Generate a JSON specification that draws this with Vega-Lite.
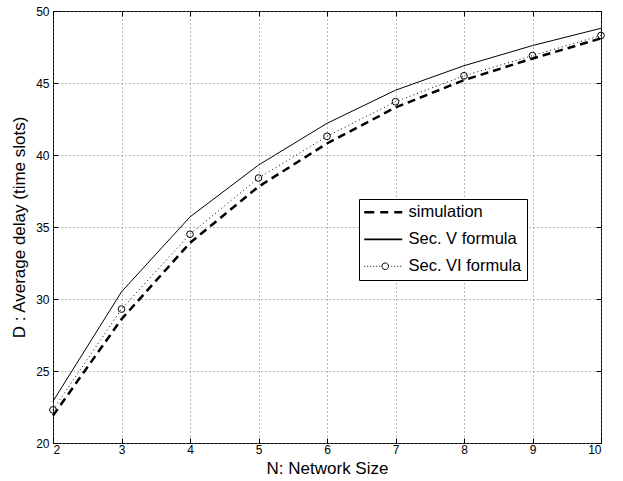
{
  "$schema": "https://vega.github.io/schema/vega-lite/v6.json",
  "width": 548,
  "height": 432,
  "autosize": "none",
  "padding": {"left": 53, "top": 11, "right": 22, "bottom": 38},
  "background": "white",
  "config": {
    "font": "Liberation Sans",
    "view": {"stroke": "black", "strokeWidth": 1},
    "axis": {
      "domain": false,
      "labelFontSize": 12,
      "labelColor": "black",
      "labelFont": "Liberation Sans",
      "titleFontSize": 17,
      "titleFontWeight": "normal",
      "titleColor": "black",
      "titleFont": "Liberation Sans",
      "tickColor": "black",
      "tickSize": -5,
      "gridColor": "#777777",
      "gridDash": [1, 3],
      "gridOpacity": 1
    },
    "legend": {
      "orient": "none",
      "legendX": 306,
      "legendY": 188,
      "strokeColor": "black",
      "fillColor": "white",
      "padding": 5,
      "labelFontSize": 16.5,
      "labelFont": "Liberation Sans",
      "labelColor": "black",
      "labelOffset": 28,
      "rowPadding": 10,
      "symbolSize": 100,
      "symbolStrokeColor": "black"
    }
  },
  "data": {
    "values": [
      {"series": "simulation", "N": 2, "D": 21.9},
      {"series": "simulation", "N": 3, "D": 28.6},
      {"series": "simulation", "N": 4, "D": 33.9},
      {"series": "simulation", "N": 5, "D": 37.8},
      {"series": "simulation", "N": 6, "D": 40.8},
      {"series": "simulation", "N": 7, "D": 43.3},
      {"series": "simulation", "N": 8, "D": 45.2},
      {"series": "simulation", "N": 9, "D": 46.7},
      {"series": "simulation", "N": 10, "D": 48.1},
      {"series": "Sec. V formula", "N": 2, "D": 22.9},
      {"series": "Sec. V formula", "N": 3, "D": 30.5},
      {"series": "Sec. V formula", "N": 4, "D": 35.7},
      {"series": "Sec. V formula", "N": 5, "D": 39.3},
      {"series": "Sec. V formula", "N": 6, "D": 42.2},
      {"series": "Sec. V formula", "N": 7, "D": 44.5},
      {"series": "Sec. V formula", "N": 8, "D": 46.2},
      {"series": "Sec. V formula", "N": 9, "D": 47.6},
      {"series": "Sec. V formula", "N": 10, "D": 48.8},
      {"series": "Sec. VI formula", "N": 2, "D": 22.3},
      {"series": "Sec. VI formula", "N": 3, "D": 29.3},
      {"series": "Sec. VI formula", "N": 4, "D": 34.5},
      {"series": "Sec. VI formula", "N": 5, "D": 38.4},
      {"series": "Sec. VI formula", "N": 6, "D": 41.3},
      {"series": "Sec. VI formula", "N": 7, "D": 43.7},
      {"series": "Sec. VI formula", "N": 8, "D": 45.5},
      {"series": "Sec. VI formula", "N": 9, "D": 46.9},
      {"series": "Sec. VI formula", "N": 10, "D": 48.3}
    ]
  },
  "layer": [
    {
      "transform": [{"filter": "datum.series === 'simulation'"}],
      "mark": {"type": "line", "color": "black", "strokeWidth": 2.5, "strokeDash": [8, 5]},
      "encoding": {
        "x": {
          "field": "N", "type": "quantitative",
          "scale": {"domain": [2, 10], "nice": false, "zero": false},
          "axis": {"orient": "bottom", "values": [2, 3, 4, 5, 6, 7, 8, 9, 10], "grid": true, "title": "N: Network Size", "labelPadding": 6, "titlePadding": 5}
        },
        "y": {
          "field": "D", "type": "quantitative",
          "scale": {"domain": [20, 50], "nice": false, "zero": false},
          "axis": {"orient": "left", "values": [20, 25, 30, 35, 40, 45, 50], "grid": true, "title": "D : Average delay (time slots)", "labelPadding": 9, "titlePadding": 7}
        }
      }
    },
    {
      "transform": [{"filter": "datum.series === 'Sec. V formula'"}],
      "mark": {"type": "line", "color": "black", "strokeWidth": 1},
      "encoding": {
        "x": {"field": "N", "type": "quantitative", "axis": null},
        "y": {"field": "D", "type": "quantitative", "axis": null}
      }
    },
    {
      "transform": [{"filter": "datum.series === 'Sec. VI formula'"}],
      "mark": {"type": "line", "color": "black", "strokeWidth": 1, "strokeDash": [1, 3]},
      "encoding": {
        "x": {"field": "N", "type": "quantitative", "axis": null},
        "y": {"field": "D", "type": "quantitative", "axis": null}
      }
    },
    {
      "transform": [{"filter": "datum.series === 'Sec. VI formula'"}],
      "mark": {"type": "point", "shape": "circle", "filled": false, "color": "black", "strokeWidth": 1, "size": 45, "opacity": 1},
      "encoding": {
        "x": {"field": "N", "type": "quantitative", "axis": null},
        "y": {"field": "D", "type": "quantitative", "axis": null}
      }
    },
    {
      "transform": [{"filter": "false"}],
      "mark": {"type": "point", "filled": false, "color": "black", "size": 100, "opacity": 1},
      "encoding": {
        "x": {
          "field": "N", "type": "quantitative",
          "axis": {"orient": "top", "values": [2, 3, 4, 5, 6, 7, 8, 9, 10], "grid": false, "labels": false, "title": null}
        },
        "y": {
          "field": "D", "type": "quantitative",
          "axis": {"orient": "right", "values": [20, 25, 30, 35, 40, 45, 50], "grid": false, "labels": false, "title": null}
        },
        "shape": {
          "field": "series", "type": "nominal",
          "scale": {
            "domain": ["simulation", "Sec. V formula", "Sec. VI formula"],
            "range": [
              "M-1.6,0H0.4M1.6,0H3.2M4.4,0H6",
              "M-1.6,0H6",
              "M-1.6,0h0.2M-1.0,0h0.2M-0.4,0h0.2M0.2,0h0.2M0.8,0h0.2M1.4,0h0.2M3.26,0A0.66,0.66 0 1,1 1.94,0A0.66,0.66 0 1,1 3.26,0M3.8,0h0.2M4.4,0h0.2M5.0,0h0.2M5.6,0h0.2"
            ]
          },
          "legend": {"title": null}
        },
        "strokeWidth": {
          "field": "series", "type": "nominal",
          "scale": {"domain": ["simulation", "Sec. V formula", "Sec. VI formula"], "range": [2.5, 1, 1]},
          "legend": {"title": null}
        }
      }
    }
  ]
}
